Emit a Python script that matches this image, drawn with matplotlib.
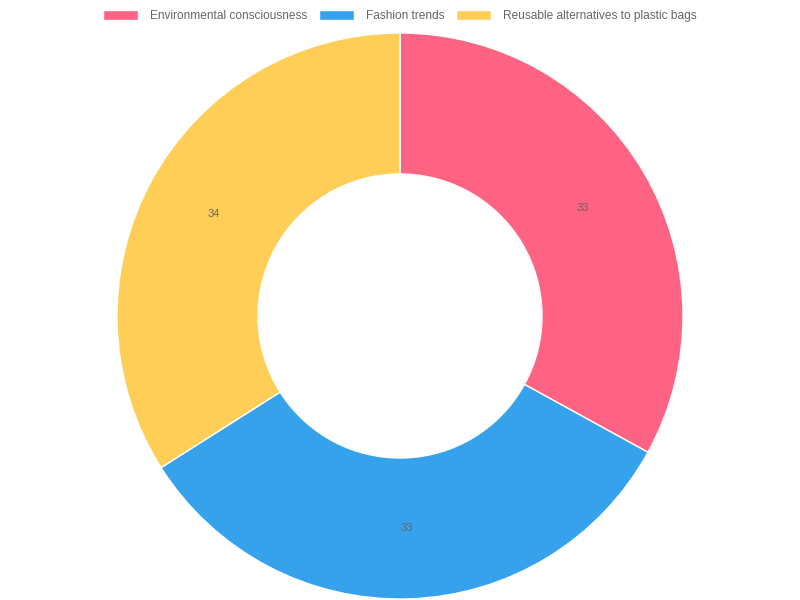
import numpy as np
import matplotlib.pyplot as plt

categories = ['Environmental consciousness', 'Fashion trends',
              'Reusable alternatives to plastic bags']
values = [33, 33, 34]
colors = ['#ff6384', '#36a2eb', '#ffce56']

W, H = 800, 600
cx, cy = 400, H - 316
r_out, r_in = 283, 142

fig = plt.figure(figsize=(W / 100, H / 100), dpi=100)
ax = fig.add_axes([0, 0, 1, 1])
ax.axis('off')

wedges, texts = ax.pie(values,
                       colors=colors,
                       startangle=90,
                       counterclock=False,
                       radius=r_out,
                       center=(cx, cy),
                       wedgeprops=dict(width=r_out - r_in, edgecolor='white',
                                       linewidth=1))
ax.set_xlim(0, W)
ax.set_ylim(0, H)
ax.set_aspect('equal')

# value labels in the middle of each ring segment
r_mid = (r_out + r_in) / 2
for w, v in zip(wedges, values):
  ang = np.deg2rad((w.theta1 + w.theta2) / 2)
  ax.text(cx + r_mid * np.cos(ang), cy + r_mid * np.sin(ang), str(v),
          ha='center', va='center', fontsize=8, color='#666666',
          family='Liberation Sans')

fig.legend(wedges, categories,
           loc='center',
           bbox_to_anchor=(0.5, 1 - 16 / H),
           ncol=3,
           frameon=False,
           prop=dict(family='Liberation Sans', size=8.6),
           labelcolor='#666666',
           handlelength=2.9,
           handleheight=0.9,
           handletextpad=1.0,
           columnspacing=1.0,
           borderaxespad=0)

fig.savefig('out.png', dpi=100)
